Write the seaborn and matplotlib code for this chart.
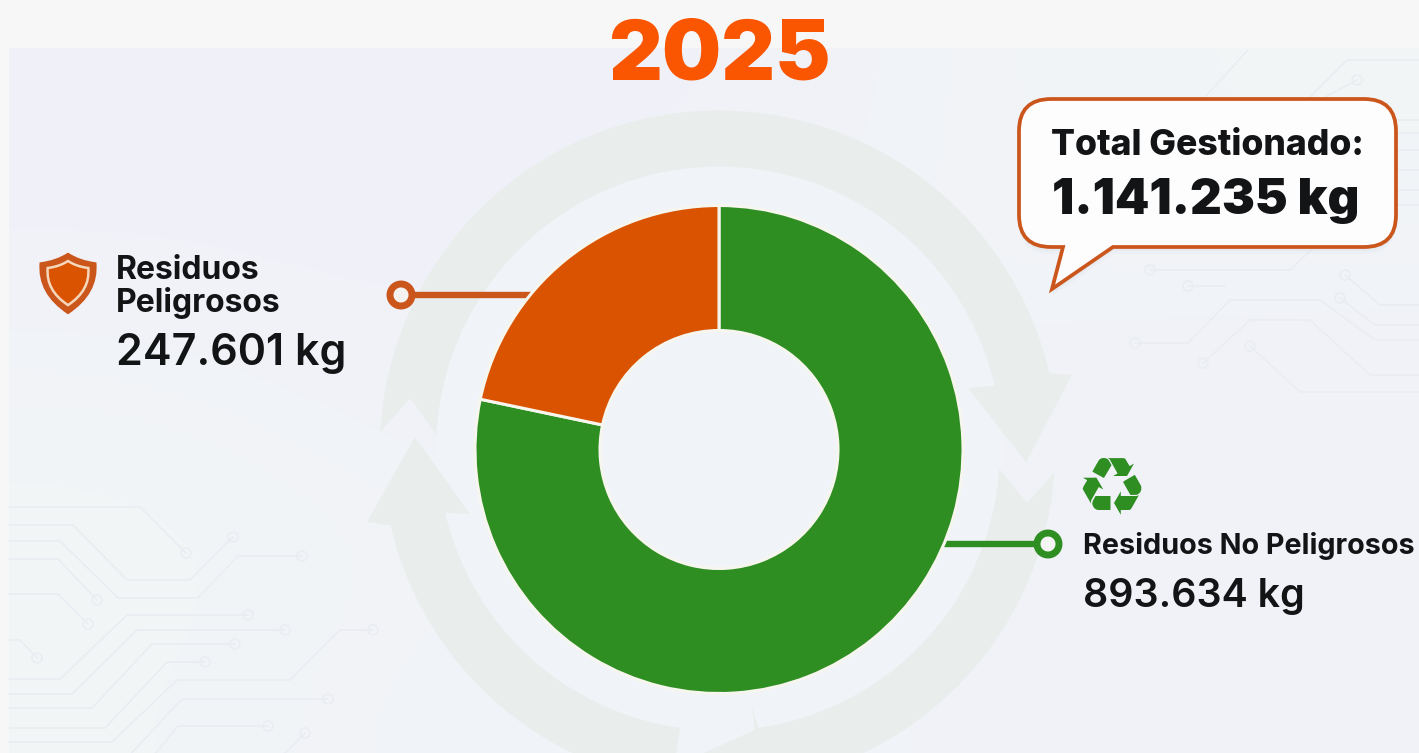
import numpy as np
import pandas as pd
import matplotlib
matplotlib.use("Agg")
import matplotlib.pyplot as plt
import seaborn as sns
from matplotlib.patches import Circle, PathPatch, Polygon, Rectangle
from matplotlib.path import Path

# data
categories = ["Residuos No Peligrosos", "Residuos Peligrosos"]
values_kg = [893634, 247601]
value_labels = ["893.634 kg", "247.601 kg"]
total_label = "1.141.235 kg"
year_label = "2025"

GREEN = "#2e8e22"
ORANGE = "#d95300"
TITLE_ORANGE = "#fa5500"
LINE_ORANGE = "#cb561c"
RING = "#e9edeb"
TRACE = "#e9ecf1"
INK = "#121416"
FONT = "Inter"

sns.set_theme(style="white")
palette = sns.color_palette([GREEN, ORANGE])
df = pd.DataFrame({"cat": categories, "kg": values_kg})

W, H = 1419, 753
CX, CY = 719, 449.5
R_OUT, R_IN = 244, 119

fig = plt.figure(figsize=(W / 100, H / 100), dpi=100)

# background layer works in image pixels
ax = fig.add_axes([0, 0, 1, 1], zorder=0)
ax.set_xlim(0, W)
ax.set_ylim(H, 0)
ax.axis("off")
ax.add_patch(Rectangle((0, 0), W, H, color="#f7f7f7", lw=0, zorder=0))

# soft tint of the panel, greener at the circuit corners
tint = np.array([[0.1, 0.2, 0.1, 0.6, 0.9],
                 [0.2, 0.1, 0.4, 0.6, 0.5],
                 [0.6, 0.2, 0.3, 0.2, 0.2],
                 [1.0, 0.5, 0.5, 0.4, 0.3],
                 [0.9, 0.3, 0.6, 0.3, 0.2]])
base = np.array([240, 241, 249]) / 255
alt = np.array([242, 246, 246]) / 255
panel = base + (alt - base) * tint[..., None]
ax.imshow(panel, extent=(9, W, H, 48), interpolation="bicubic", aspect="auto", zorder=0.5)
ax.set_xlim(0, W)
ax.set_ylim(H, 0)


def polar(t, r):
    t = np.radians(t)
    return [CX + r * np.sin(t), CY - r * np.cos(t)]


def band(t0, t1, r0, r1, n=60):
    ts = np.linspace(t0, t1, n)
    return [polar(t, r1) for t in ts], [polar(t, r0) for t in ts[::-1]]


ax.add_patch(Circle((CX, CY), 283, color="#f0f4f8", lw=0, zorder=1))

# recycling arrows behind the donut
out, inn = band(-87, 77, 283, 339)
ax.add_patch(Polygon(out + [[1072, 375], [1026, 462], [968, 388]] + inn + [[410, 398]],
                     color=RING, lw=0, zorder=1.2))
out, inn = band(94, 172, 281, 336)
ax.add_patch(Polygon([[1027, 503]] + out + [[770, 800], [660, 800], [704, 753], [755, 730], [752, 707]] + inn,
                     color=RING, lw=0, zorder=1.2))
out, inn = band(188, 257, 281, 337)
ax.add_patch(Polygon(out + [[367, 522], [415, 437], [470, 514]] + inn, color=RING, lw=0, zorder=1.2))

# circuit traces, last point carries the small ring
traces = [
    [(9, 507), (140, 507), (186, 553)],
    [(9, 525), (73, 525), (127, 580), (190, 580), (233, 537)],
    [(9, 541), (60, 541), (118, 598), (198, 598), (238, 556), (302, 556)],
    [(9, 559), (58, 559), (97, 600)],
    [(9, 594), (58, 594), (88, 624)],
    [(9, 640), (20, 640), (37, 658)],
    [(9, 679), (60, 679), (127, 615), (248, 615)],
    [(9, 694), (72, 694), (137, 630), (285, 630)],
    [(9, 708), (92, 708), (152, 644), (235, 644)],
    [(9, 728), (105, 728), (167, 662), (205, 662)],
    [(9, 742), (112, 742), (177, 680), (290, 680), (340, 630), (373, 630)],
    [(125, 760), (182, 699), (328, 699)],
    [(150, 760), (178, 726), (268, 726)],
    [(278, 760), (305, 733)],
    [(1290, 270), (1330, 232)],
    [(1290, 270), (1150, 270)],
    [(1225, 286), (1188, 286)],
    [(1419, 340), (1375, 340), (1320, 300), (1230, 300), (1188, 343), (1135, 343)],
    [(1419, 375), (1370, 375), (1310, 320), (1250, 320), (1203, 363)],
    [(1419, 392), (1300, 392), (1250, 346)],
    [(1419, 305), (1380, 305), (1345, 275)],
    [(1419, 325), (1375, 325), (1340, 298)],
    [(1325, 97), (1357, 80)],
]
for tr in traces:
    xs, ys = zip(*tr)
    ax.plot(xs, ys, color=TRACE, lw=1.1, zorder=0.8, solid_capstyle="round")
    ax.add_patch(Circle(tr[-1], 5, fc="none", ec=TRACE, lw=1.1, zorder=0.8))

# plain traces with no ring
plain = [
    [(1419, 60), (1347, 60), (1310, 97)],
    [(1205, 97), (1248, 50)],
    [(1396, 120), (1419, 120)],
    [(1396, 133), (1419, 133)],
    [(1396, 150), (1419, 150)],
    [(1396, 170), (1419, 170)],
    [(1396, 190), (1419, 190)],
    [(1396, 205), (1419, 205)],
]
for tr in plain:
    xs, ys = zip(*tr)
    ax.plot(xs, ys, color=TRACE, lw=1.1, zorder=0.8)

# connectors
ax.plot([412, 540], [295, 295], color=LINE_ORANGE, lw=4.6, zorder=2)
ax.add_patch(Circle((401, 295), 11, fc="#f5f3f0", ec=LINE_ORANGE, lw=5.0, zorder=3))
ax.plot([935, 1036], [544, 544], color=GREEN, lw=4.6, zorder=2)
ax.add_patch(Circle((1048, 544), 11, fc="#f5f6f3", ec=GREEN, lw=5.0, zorder=3))

# speech bubble
x0, x1, y0, y1, r = 1019, 1396, 99, 247, 32
verts = [(x0 + r, y0), (x1 - r, y0), (x1, y0), (x1, y0 + r), (x1, y1 - r), (x1, y1), (x1 - r, y1),
         (1113, y1), (1052, 289), (1063, y1), (x0 + r, y1), (x0, y1), (x0, y1 - r), (x0, y0 + r),
         (x0, y0), (x0 + r, y0), (x0 + r, y0)]
codes = [Path.MOVETO, Path.LINETO, Path.CURVE3, Path.CURVE3, Path.LINETO, Path.CURVE3, Path.CURVE3,
         Path.LINETO, Path.LINETO, Path.LINETO, Path.LINETO, Path.CURVE3, Path.CURVE3, Path.LINETO,
         Path.CURVE3, Path.CURVE3, Path.CLOSEPOLY]
bubble = Path(verts, codes)
for off, alpha in [(7, 0.10), (4, 0.14)]:
    ax.add_patch(PathPatch(Path(np.array(verts) + [0, off], codes), fc="#c8ced8", ec="none", alpha=alpha, zorder=3))
ax.add_patch(PathPatch(bubble, fc="#fdfdfe", ec=LINE_ORANGE, lw=2.7, joinstyle="miter", zorder=3.2))


# shield icon
def shield(scale):
    cx, cy = 68, 282
    pts = np.array([(0, -30), (12, -22), (29, -20), (29, -20), (32, 12), (0, 33), (-32, 12),
                    (-29, -20), (-29, -20), (-12, -22), (0, -30), (0, -30)], float)
    c = [Path.MOVETO, Path.CURVE3, Path.CURVE3, Path.LINETO, Path.CURVE3, Path.CURVE3,
         Path.CURVE3, Path.CURVE3, Path.LINETO, Path.CURVE3, Path.CURVE3, Path.CLOSEPOLY]
    return Path(pts * scale + [cx, cy], c)


ax.add_patch(PathPatch(shield(0.98), fc=LINE_ORANGE, ec="none", zorder=3))
ax.add_patch(PathPatch(shield(0.70), fc=ORANGE, ec="#f5d8bb", lw=1.8, zorder=3.1))

# donut, axes a little larger than the circle so the rim is not cut
PAD = 1.02
half = R_OUT * PAD
pie_ax = fig.add_axes([(CX - half) / W, (H - CY - half) / H, 2 * half / W, 2 * half / H], zorder=1)
pie_ax.pie(df["kg"], colors=palette, startangle=90, counterclock=False, radius=1,
           wedgeprops=dict(width=(R_OUT - R_IN) / R_OUT, edgecolor="#f6f6ee", linewidth=2.2))
pie_ax.set_xlim(-PAD, PAD)
pie_ax.set_ylim(-PAD, PAD)
pie_ax.set_aspect("equal")
pie_ax.patch.set_alpha(0)

# text goes on top of everything
top = fig.add_axes([0, 0, 1, 1], zorder=2)
top.set_xlim(0, W)
top.set_ylim(H, 0)
top.axis("off")


def label(x, y, s, size, weight="bold", color=INK, ha="left"):
    top.text(x, y, s, fontsize=size, fontweight=weight, color=color, ha=ha, va="baseline", family=FONT)


label(719, 79, year_label, 60, "black", TITLE_ORANGE, "center")
label(1051, 155, "Total Gestionado:", 25.6, "extra bold")
label(1052, 214, total_label, 35.5, "black")
label(116, 279, "Residuos", 23)
label(116, 312, "Peligrosos", 23)
label(116, 365, value_labels[1], 31, "semibold")
label(1083, 554, categories[0], 20.7)
label(1083, 607, value_labels[0], 28.4, "semibold")
top.text(1111, 514, "\u267b", fontsize=58, color=GREEN, ha="center", va="baseline", family="DejaVu Sans")

fig.savefig("out.png", dpi=100)
